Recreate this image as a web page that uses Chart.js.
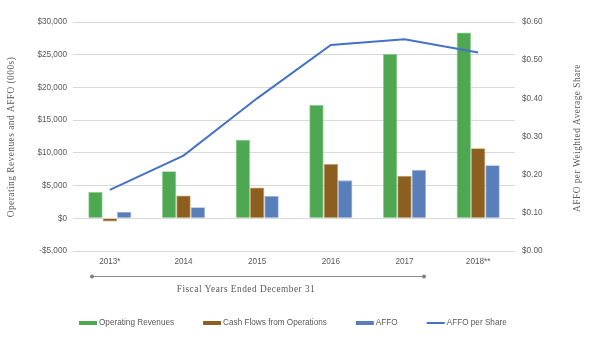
<!DOCTYPE html>
<html>
<head>
<meta charset="utf-8">
<script src="https://cdn.jsdelivr.net/npm/chart.js@4/dist/chart.umd.min.js"></script>
<style>
  html, body { margin: 0; padding: 0; background: #fff; }
  #wrap { width: 600px; height: 344px; }
</style>
</head>
<body>
<div id="wrap"><canvas id="chart" width="600" height="344"></canvas></div>
<script>
// values (thousands of $ / $ per share)
const years = ['2013*', '2014', '2015', '2016', '2017', '2018**'];
const operatingRevenues = [4000, 7200, 12000, 17300, 25100, 28400];
const cashFlows = [-500, 3500, 4700, 8300, 6500, 10700];
const affo = [1000, 1700, 3400, 5800, 7400, 8100];
const affoPerShare = [0.16, 0.25, 0.40, 0.54, 0.555, 0.52];

const leftTitle = 'Operating Revenues and AFFO (000s)';
const rightTitle = 'AFFO per Weighted Average Share';
const xTitle = 'Fiscal Years Ended December 31';

const SANS = "'Liberation Sans', Arial, sans-serif";
const SERIF = "'Liberation Serif', 'Times New Roman', serif";
const TEXT = '#595959';

// axis titles, bracket under the years and the legend row
const extrasPlugin = {
    id: 'extras',
    afterDraw(chart) {
        const ctx = chart.ctx;
        const area = chart.chartArea;
        ctx.save();
        ctx.fillStyle = TEXT;
        ctx.font = '9.3px ' + SERIF;
        ctx.textAlign = 'center';
        ctx.textBaseline = 'middle';
        if ('letterSpacing' in ctx) ctx.letterSpacing = '0.5px';

        // left axis title
        ctx.save();
        ctx.translate(12, 137);
        ctx.rotate(-Math.PI / 2);
        ctx.fillText(leftTitle, 0, 0);
        ctx.restore();

        // right axis title (also reads bottom to top)
        ctx.save();
        ctx.translate(578, 138);
        ctx.rotate(-Math.PI / 2);
        ctx.fillText(rightTitle, 0, 0);
        ctx.restore();

        // bracket line with dots
        const x0 = 92, x1 = 424, yb = 276.5;
        ctx.strokeStyle = '#8c8c8c';
        ctx.lineWidth = 1.2;
        ctx.beginPath();
        ctx.moveTo(x0, yb);
        ctx.lineTo(x1, yb);
        ctx.stroke();
        ctx.fillStyle = '#7f7f7f';
        [x0, x1].forEach(x => {
            ctx.beginPath();
            ctx.arc(x, yb, 2, 0, Math.PI * 2);
            ctx.fill();
        });

        ctx.fillStyle = TEXT;
        ctx.fillText(xTitle, 246, 290);
        if ('letterSpacing' in ctx) ctx.letterSpacing = '0px';

        // legend
        ctx.font = '8.2px ' + SANS;
        ctx.textAlign = 'left';
        let x = 79;
        const y = 323;
        chart.data.datasets.forEach(ds => {
            ctx.fillStyle = ds.borderColor && ds.type === 'line' ? ds.borderColor : ds.backgroundColor;
            if (ds.type === 'line') {
                ctx.fillRect(x, y - 1, 18, 2);
            } else {
                ctx.fillRect(x, y - 2, 18, 4);
            }
            ctx.fillStyle = TEXT;
            ctx.fillText(ds.label, x + 20, y);
            x += 20 + ctx.measureText(ds.label).width + 29;
        });
        ctx.restore();
    }
};

const ctx = document.getElementById('chart').getContext('2d');
new Chart(ctx, {
    type: 'bar',
    data: {
        labels: years,
        datasets: [
            {
                label: 'Operating Revenues',
                data: operatingRevenues,
                backgroundColor: '#4ea852',
                borderColor: '#8fcc92',
                borderWidth: 0.8,
                yAxisID: 'y',
                order: 2
            },
            {
                label: 'Cash Flows from Operations',
                data: cashFlows,
                backgroundColor: '#8c5f21',
                borderColor: '#c4a06a',
                borderWidth: 0.8,
                yAxisID: 'y',
                order: 2
            },
            {
                label: 'AFFO',
                data: affo,
                backgroundColor: '#587fba',
                borderColor: '#96b1d8',
                borderWidth: 0.8,
                yAxisID: 'y',
                order: 2
            },
            {
                type: 'line',
                label: 'AFFO per Share',
                data: affoPerShare,
                borderColor: '#4472c4',
                backgroundColor: '#4472c4',
                borderWidth: 2,
                pointRadius: 0,
                tension: 0,
                yAxisID: 'y1',
                order: 1
            }
        ]
    },
    options: {
        responsive: false,
        animation: false,
        layout: { padding: { top: 22, left: 0, right: 0, bottom: 0 } },
        datasets: {
            bar: { categoryPercentage: 0.585, barPercentage: 1.0 }
        },
        plugins: {
            legend: { display: false },
            tooltip: { enabled: false }
        },
        scales: {
            x: {
                grid: { display: false, drawTicks: false },
                border: { display: false },
                ticks: {
                    color: TEXT,
                    font: { family: SANS, size: 8.2 },
                    padding: 6,
                    maxRotation: 0,
                    autoSkip: false
                },
                afterFit(scale) { scale.height = 93; }
            },
            y: {
                position: 'left',
                min: -5000,
                max: 30000,
                grid: { color: '#d9d9d9', lineWidth: 1, drawTicks: false },
                border: { display: false },
                ticks: {
                    stepSize: 5000,
                    color: TEXT,
                    font: { family: SANS, size: 8.2 },
                    padding: 6,
                    callback: v => (v < 0 ? '-$' : '$') + Math.abs(v).toLocaleString('en-US')
                },
                afterFit(scale) { scale.width = 73; }
            },
            y1: {
                position: 'right',
                min: 0,
                max: 0.6,
                grid: { display: false, drawTicks: false },
                border: { display: false },
                ticks: {
                    stepSize: 0.1,
                    color: TEXT,
                    font: { family: SANS, size: 8.2 },
                    padding: 7,
                    callback: v => '$' + Number(v).toFixed(2)
                },
                afterFit(scale) { scale.width = 85; }
            }
        }
    },
    plugins: [extrasPlugin]
});
</script>
</body>
</html>
